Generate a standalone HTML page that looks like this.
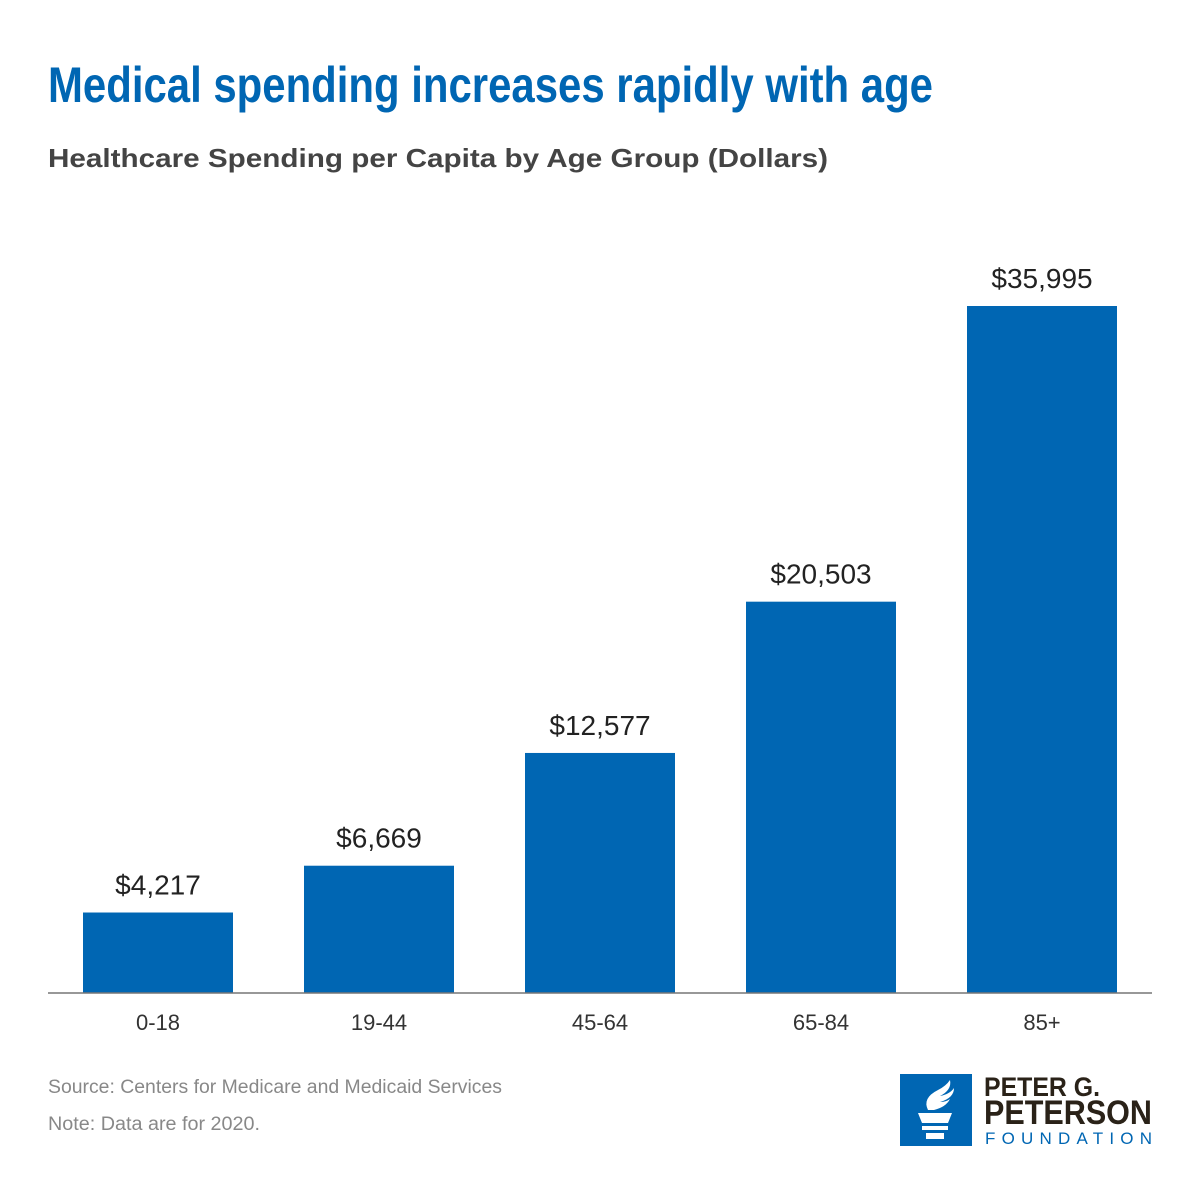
<!DOCTYPE html>
<html><head><meta charset="utf-8"><style>
html,body{margin:0;padding:0;background:#fff;}
svg{display:block;font-family:"Liberation Sans",sans-serif;}
</style></head><body>
<svg id="chart" width="1200" height="1200" viewBox="0 0 1200 1200">
<text x="48" y="102" font-family="Liberation Sans Narrow, Liberation Sans, sans-serif" font-weight="bold" font-size="50" fill="#0066b3" textLength="885" lengthAdjust="spacingAndGlyphs">Medical spending increases rapidly with age</text>
<text x="48" y="167" font-weight="bold" font-size="26" fill="#444" textLength="780" lengthAdjust="spacingAndGlyphs">Healthcare Spending per Capita by Age Group (Dollars)</text>
<g id="bars"></g>
<line x1="48" y1="993" x2="1152" y2="993" stroke="#777" stroke-width="1.5"/>
<text x="48" y="1093" font-size="19" fill="#888" textLength="454" lengthAdjust="spacingAndGlyphs">Source: Centers for Medicare and Medicaid Services</text>
<text x="48" y="1130" font-size="19" fill="#888" textLength="212" lengthAdjust="spacingAndGlyphs">Note: Data are for 2020.</text>
<g>
<rect x="900" y="1074" width="72" height="72" fill="#0066b3"/>
<path d="M918 1113 h34 l-4 10 h-26 z M922 1126 h26 v4 h-26 z M926 1133 h18 v6 h-18 z" fill="#fff"/>
<path d="M928 1110 q-6 -12 10 -20 q8 -4 12 -10 q2 10 -10 16 q10 -2 14 -8 q0 10 -14 14 q6 0 10 -3 q-4 8 -16 11 z" fill="#fff"/>
<text x="984" y="1096" font-weight="bold" font-size="27" fill="#2a2218" textLength="116" lengthAdjust="spacingAndGlyphs">PETER G.</text>
<text x="984" y="1124" font-weight="bold" font-size="34" fill="#2a2218" textLength="168" lengthAdjust="spacingAndGlyphs">PETERSON</text>
<text x="985" y="1144" font-size="17" fill="#0066b3" textLength="167" lengthAdjust="spacing">FOUNDATION</text>
</g>
</svg>
<script>
const categories = ["0-18","19-44","45-64","65-84","85+"];
const values = [4217, 6669, 12577, 20503, 35995];
const valueLabels = ["$4,217","$6,669","$12,577","$20,503","$35,995"];
const NS = "http://www.w3.org/2000/svg";
const baseY = 993, plotTop = 306, maxV = 35995;
function yScale(v){ return baseY - (v / maxV) * (baseY - plotTop); }
const band = 221, barW = 150, x0 = 83;
function xScale(i){ return x0 + i * band; }
const g = document.getElementById("bars");
categories.forEach((c, i) => {
  const x = xScale(i), y = yScale(values[i]);
  const r = document.createElementNS(NS, "rect");
  r.setAttribute("x", x); r.setAttribute("y", y);
  r.setAttribute("width", barW); r.setAttribute("height", baseY - y);
  r.setAttribute("fill", "#0066b3");
  
  
  g.appendChild(r);
  const t = document.createElementNS(NS, "text");
  t.setAttribute("x", x + barW / 2); t.setAttribute("y", y - 18);
  t.setAttribute("text-anchor", "middle"); t.setAttribute("font-size", "28"); t.setAttribute("fill", "#222");
  t.textContent = valueLabels[i];
  
  
  g.appendChild(t);
  const l = document.createElementNS(NS, "text");
  l.setAttribute("x", x + barW / 2); l.setAttribute("y", 1030);
  l.setAttribute("text-anchor", "middle"); l.setAttribute("font-size", "22"); l.setAttribute("fill", "#333");
  l.textContent = c;
  
  
  g.appendChild(l);
});
</script>
</body></html>
